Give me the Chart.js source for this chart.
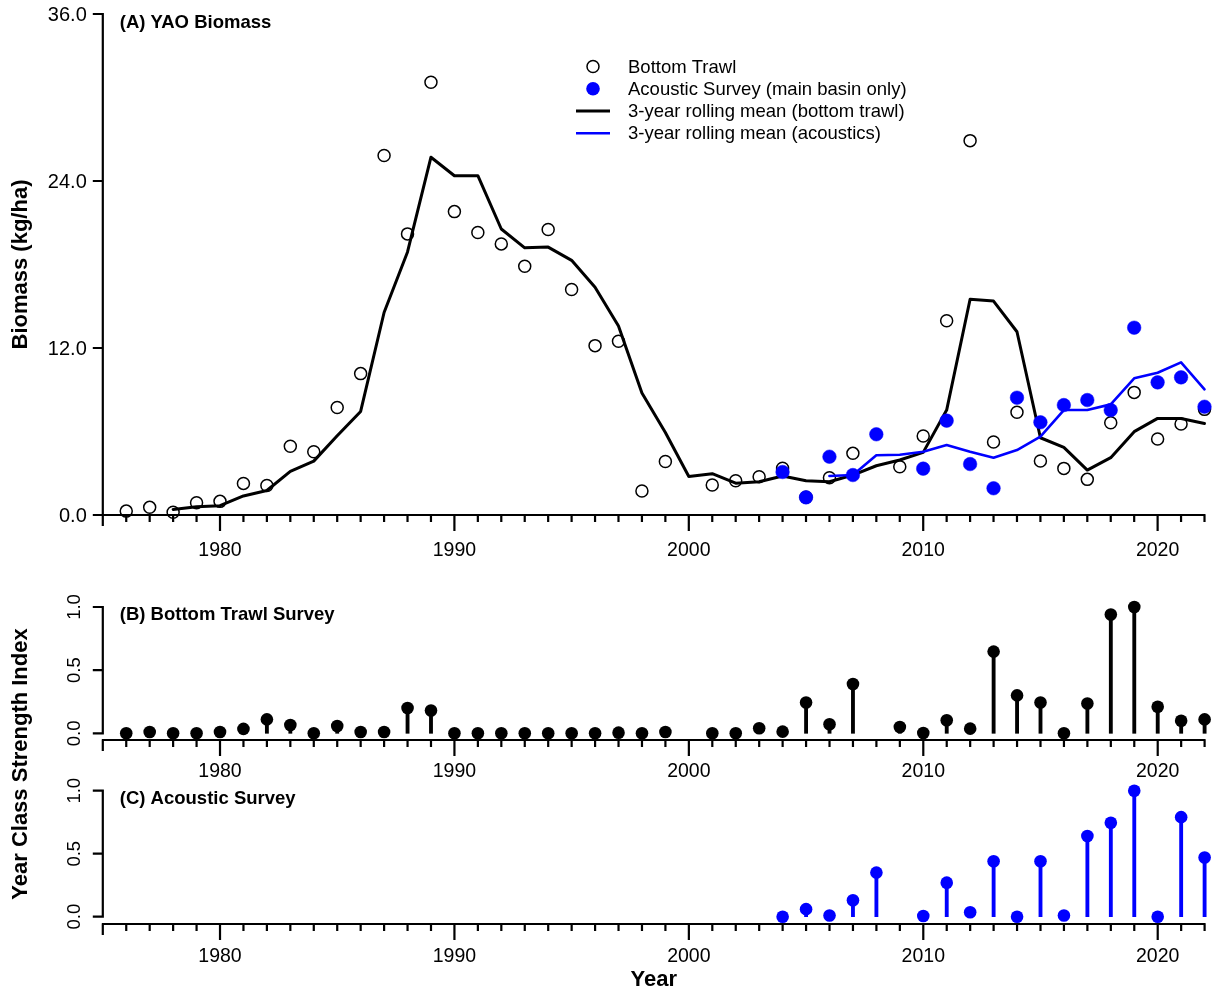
<!DOCTYPE html>
<html><head><meta charset="utf-8">
<script src="https://cdn.jsdelivr.net/npm/chart.js@4.4.1/dist/chart.umd.min.js"></script>
<style>
html,body{margin:0;padding:0;background:#fff;}
#wrap{position:relative;width:1212px;height:993px;overflow:hidden;background:#fff;}
#wrap canvas{position:absolute;left:0;top:0;}
</style></head>
<body><div id="wrap">
<canvas id="cA" width="1212" height="993"></canvas>
<canvas id="cB" width="1212" height="993"></canvas>
<canvas id="cC" width="1212" height="993"></canvas>
</div>
<script>
// ---------------- DATA ----------------
const years = [1976,1977,1978,1979,1980,1981,1982,1983,1984,1985,1986,1987,1988,1989,1990,1991,1992,1993,1994,1995,1996,1997,1998,1999,2000,2001,2002,2003,2004,2005,2006,2007,2008,2009,2010,2011,2012,2013,2014,2015,2016,2017,2018,2019,2020,2021,2022];
const bottomTrawl = [0.28,0.55,0.20,0.88,0.98,2.27,2.12,4.94,4.55,7.73, 10.16,25.83,20.20,31.10,21.80,20.30,19.48,17.87,20.52,16.20, 12.17,12.49,1.73,3.84,null,2.15,2.46,2.75,3.36,1.27, 2.68,4.43,null,3.47,5.68,13.96,26.90,5.24,7.38,3.88, 3.35,2.56,6.63,8.81,5.46,6.54,7.59];
const trawlMean = [null,null,0.40,0.59,0.67,1.37,1.76,3.14,3.87,5.69, 7.44,14.55,18.90,25.71,24.38,24.38,20.55,19.20,19.25,18.30, 16.37,13.58,8.77,5.93,2.77,2.97,2.29,2.39,2.80,2.46, 2.39,2.87,3.54,3.95,4.50,7.54,15.50,15.37,13.17,5.55, 4.86,3.23,4.12,5.99,6.94,6.94,6.58];
const trawlYCS = [0,0.01,0,0,0.01,0.035,0.11,0.066,0,0.058, 0.01,0.01,0.20,0.18,0,0,0,0,0,0, 0,0.005,0,0.01,null,0,0,0.04,0.013,0.244, 0.072,0.39,null,0.05,0.003,0.103,0.037,0.647,0.30,0.244, 0,0.236,0.94,1.0,0.21,0.10,0.11];

const acYears = [2004,2005,2006,2007,2008,2009,2010,2011,2012,2013,2014,2015,2016,2017,2018,2019,2020,2021,2022];
const acoustic = [3.09,1.27,4.19,2.87,5.80,null,3.33,6.78,3.66,1.92,8.43,6.66,7.90,8.26,7.54,13.46,9.53,9.89,7.78];
const acMean = [null,null,2.80,2.87,4.29,4.33,4.55,5.03,4.55,4.12,4.67,5.63,7.54,7.54,7.95,9.82,10.22,10.97,9.03];
const acYCS = [0,0.06,0.01,0.13,0.35,null,0.005,0.27,0.035,0.44,0,0.44,0.01,0.64,0.745,1.0,0,0.79,0.47];

const xRange = [1975, 2022];
const xMajorTicks = [1980,1990,2000,2010,2020];
const xTickLabels = ['1980','1990','2000','2010','2020'];
const yTicksA = [0,12,24,36];
const yTickLabelsA = ['0.0','12.0','24.0','36.0'];
const yTicksYCS = [0,0.5,1];
const yTickLabelsYCS = ['0.0','0.5','1.0'];
const legendLabels = ['Bottom Trawl','Acoustic Survey (main basin only)','3-year rolling mean (bottom trawl)','3-year rolling mean (acoustics)'];

// ---------------- HELPERS ----------------
const BLUE = '#0000ff';
const FONT = '"Liberation Sans", Arial, Helvetica, sans-serif';
function pts(xs, ys){ const out=[]; xs.forEach((x,i)=>{ if(ys[i]!==null) out.push({x:x,y:ys[i]}); }); return out; }
function ptsGap(xs, ys){ return xs.map((x,i)=>({x:x,y:ys[i]})); }

const rAxes = {
  id:'rAxes',
  afterDraw(chart, args, o){
    const {ctx, chartArea:ca} = chart;
    const xs = chart.scales.x, ys = chart.scales.y;
    ctx.save();
    ctx.strokeStyle='#000'; ctx.fillStyle='#000'; ctx.lineWidth=2.2; ctx.lineCap='butt';
    // y axis
    const left = xs.getPixelForValue(xRange[0]);
    const yt = o.yTicks;
    ctx.beginPath();
    ctx.moveTo(left, ys.getPixelForValue(yt[0])+1);
    ctx.lineTo(left, ys.getPixelForValue(yt[yt.length-1])-1);
    yt.forEach(v=>{ const py=ys.getPixelForValue(v); ctx.moveTo(left-10,py); ctx.lineTo(left+1,py); });
    ctx.stroke();
    // y labels
    if(o.yRot){
      ctx.font = '18.5px '+FONT; ctx.textAlign='center'; ctx.textBaseline='middle';
      yt.forEach((v,i)=>{ const py=ys.getPixelForValue(v); ctx.save(); ctx.translate(left-28,py); ctx.rotate(-Math.PI/2); ctx.fillText(o.yLabels[i],0,0); ctx.restore(); });
    } else {
      ctx.font = '20px '+FONT; ctx.textAlign='right'; ctx.textBaseline='middle';
      yt.forEach((v,i)=>{ const py=ys.getPixelForValue(v); ctx.fillText(o.yLabels[i], left-16, py+1); });
    }
    // x axis
    const base = ca.bottom;
    const right = xs.getPixelForValue(xRange[1]);
    ctx.beginPath();
    ctx.moveTo(left-1, base); ctx.lineTo(right+1, base);
    for(let yr=xRange[0]; yr<=xRange[1]; yr++){
      const px = xs.getPixelForValue(yr);
      let len = 7;
      if(xMajorTicks.includes(yr)) len = 16; else if(yr===xRange[0]) len = 11;
      ctx.moveTo(px, base); ctx.lineTo(px, base+len);
    }
    ctx.stroke();
    ctx.font = '19.5px '+FONT; ctx.textAlign='center'; ctx.textBaseline='middle';
    xMajorTicks.forEach((yr,i)=>{ ctx.fillText(xTickLabels[i], xs.getPixelForValue(yr), base+o.xLabOff); });
    // panel title
    ctx.font = 'bold 18.5px '+FONT; ctx.textAlign='left'; ctx.textBaseline='middle';
    ctx.fillText(o.title, left+17, o.titleY);
    // axis titles
    ctx.font = 'bold 22px '+FONT; ctx.textAlign='center'; ctx.textBaseline='middle';
    if(o.yTitle){ ctx.save(); ctx.translate(21, o.yTitleY); ctx.rotate(-Math.PI/2); ctx.fillText(o.yTitle,0,0); ctx.restore(); }
    if(o.xTitle){ ctx.fillText(o.xTitle, (left+right)/2, 980); }
    // legend
    if(o.legend){
      const lx = 593, tx = 628, ly = [66.5, 88.8, 111, 133.3];
      ctx.lineWidth=1.5; ctx.strokeStyle='#000';
      ctx.beginPath(); ctx.arc(lx, ly[0], 6, 0, Math.PI*2); ctx.stroke();
      ctx.fillStyle=BLUE; ctx.beginPath(); ctx.arc(lx, ly[1], 6.8, 0, Math.PI*2); ctx.fill();
      ctx.lineWidth=3; ctx.strokeStyle='#000'; ctx.beginPath(); ctx.moveTo(576, ly[2]); ctx.lineTo(610, ly[2]); ctx.stroke();
      ctx.lineWidth=2.6; ctx.strokeStyle=BLUE; ctx.beginPath(); ctx.moveTo(576, ly[3]); ctx.lineTo(610, ly[3]); ctx.stroke();
      ctx.fillStyle='#000'; ctx.font='18.5px '+FONT; ctx.textAlign='left'; ctx.textBaseline='middle';
      legendLabels.forEach((t,i)=>ctx.fillText(t, tx, ly[i]+1));
    }
    ctx.restore();
  }
};

const W = 1212, H = 993;
const AX_L = 102.8, AX_R = 1204.6;
function baseOpts(top, bottom, ymin, ymax, rOpts){
  return {
    responsive:false, animation:false, devicePixelRatio:1,
    layout:{padding:{left:AX_L, right:W-AX_R, top:top, bottom:H-bottom}},
    scales:{
      x:{type:'linear', min:xRange[0], max:xRange[1], display:false, offset:false},
      y:{type:'linear', min:ymin, max:ymax, display:false}
    },
    plugins:{legend:{display:false}, tooltip:{enabled:false}, rAxes:rOpts},
    events:[]
  };
}

// ---------------- PANEL A ----------------
new Chart(document.getElementById('cA'), {
  type:'scatter',
  data:{datasets:[
    {label:legendLabels[1], data:pts(acYears,acoustic), pointRadius:6.8, pointBackgroundColor:BLUE, pointBorderColor:BLUE, pointBorderWidth:0.5, clip:false},
    {type:'line', label:legendLabels[3], data:ptsGap(acYears,acMean), borderColor:BLUE, borderWidth:2.6, pointRadius:0, tension:0, fill:false, borderJoinStyle:'round', borderCapStyle:'round', clip:false},
    {type:'line', label:legendLabels[2], data:ptsGap(years,trawlMean), borderColor:'#000', borderWidth:3, pointRadius:0, tension:0, fill:false, borderJoinStyle:'round', borderCapStyle:'round', clip:false},
    {label:legendLabels[0], data:pts(years,bottomTrawl), pointRadius:6, pointBackgroundColor:'rgba(0,0,0,0)', pointBorderColor:'#000', pointBorderWidth:1.5, clip:false}
  ]},
  options: baseOpts(14, 515, 0, 36, {yTicks:yTicksA, yLabels:yTickLabelsA, yRot:false, xLabOff:36, title:'(A) YAO Biomass', titleY:23, yTitle:'Biomass (kg/ha)', yTitleY:264.5, legend:true}),
  plugins:[rAxes]
});

// ---------------- PANEL B ----------------
new Chart(document.getElementById('cB'), {
  type:'bar',
  data:{datasets:[
    {type:'scatter', label:'Bottom Trawl YCS', data:pts(years,trawlYCS), pointRadius:6.3, pointBackgroundColor:'#000', pointBorderColor:'#000', pointBorderWidth:0, clip:false},
    {type:'bar', label:'Bottom Trawl YCS stems', data:pts(years,trawlYCS), backgroundColor:'#000', barThickness:3.2, borderWidth:0, clip:false}
  ]},
  options: baseOpts(607, 740, -0.053, 1, {yTicks:yTicksYCS, yLabels:yTickLabelsYCS, yRot:true, xLabOff:32, title:'(B) Bottom Trawl Survey', titleY:615, yTitle:'Year Class Strength Index', yTitleY:764}),
  plugins:[rAxes]
});

// ---------------- PANEL C ----------------
new Chart(document.getElementById('cC'), {
  type:'bar',
  data:{datasets:[
    {type:'scatter', label:'Acoustic YCS', data:pts(acYears,acYCS), pointRadius:6.3, pointBackgroundColor:BLUE, pointBorderColor:BLUE, pointBorderWidth:0, clip:false},
    {type:'bar', label:'Acoustic YCS stems', data:pts(acYears,acYCS), backgroundColor:BLUE, barThickness:3.2, borderWidth:0, clip:false}
  ]},
  options: baseOpts(790.7, 924, -0.058, 1, {yTicks:yTicksYCS, yLabels:yTickLabelsYCS, yRot:true, xLabOff:32.5, title:'(C) Acoustic Survey', titleY:799, xTitle:'Year'}),
  plugins:[rAxes]
});
</script>
</body></html>
